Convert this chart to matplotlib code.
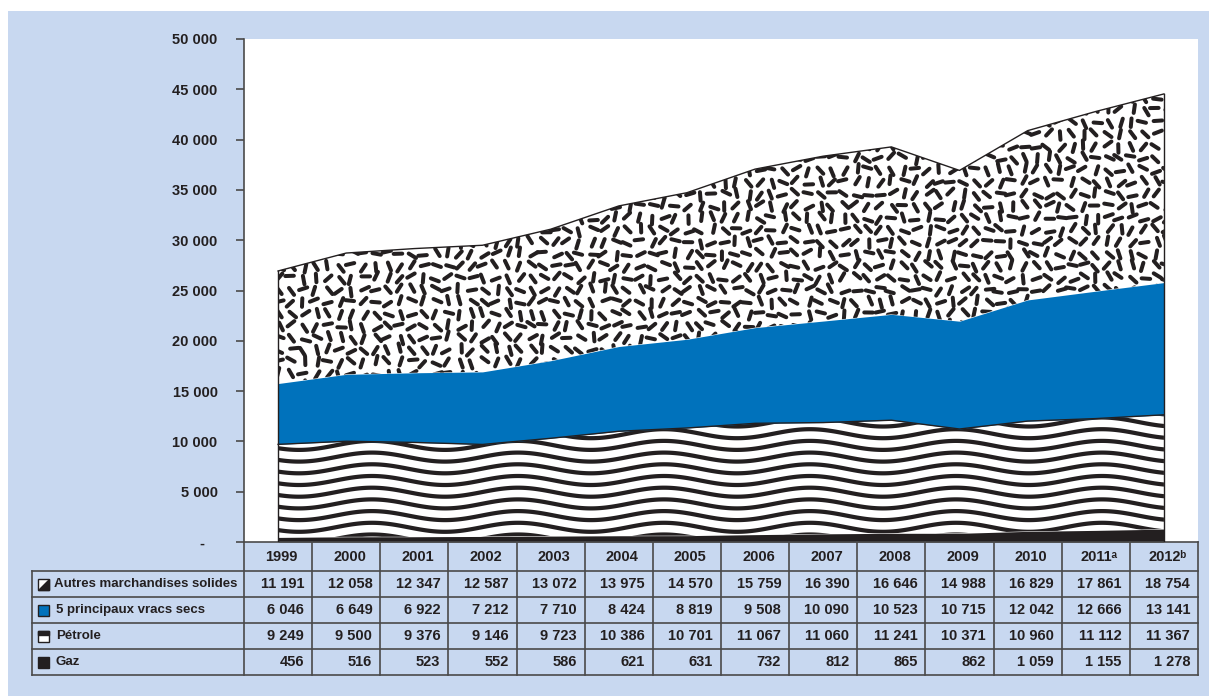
import numpy as np
import matplotlib.pyplot as plt
from matplotlib.collections import LineCollection
from matplotlib.lines import Line2D
from matplotlib.patches import Rectangle, Polygon
from matplotlib.ticker import FuncFormatter
from matplotlib.transforms import blended_transform_factory

plt.rcParams['font.family'] = ['Liberation Sans', 'DejaVu Sans']
plt.rcParams['font.weight'] = 'bold'
plt.rcParams['font.size'] = 10.5

W, H, DPI = 1209, 696, 100
BG = '#c8d8f0'
INK = '#231f20'
BLUE = '#0072bc'
RULE = '#4a4a4a'

# --- données (milliers de tonnes) ---
years = ['1999', '2000', '2001', '2002', '2003', '2004', '2005', '2006',
         '2007', '2008', '2009', '2010', '2011ᵃ', '2012ᵇ']
autres = [11191, 12058, 12347, 12587, 13072, 13975, 14570, 15759,
          16390, 16646, 14988, 16829, 17861, 18754]
vracs = [6046, 6649, 6922, 7212, 7710, 8424, 8819, 9508,
         10090, 10523, 10715, 12042, 12666, 13141]
petrole = [9249, 9500, 9376, 9146, 9723, 10386, 10701, 11067,
           11060, 11241, 10371, 10960, 11112, 11367]
gaz = [456, 516, 523, 552, 586, 621, 631, 732,
       812, 865, 862, 1059, 1155, 1278]
row_labels = ['Autres marchandises solides', '5 principaux vracs secs', 'Pétrole', 'Gaz']
y_ticks = [0, 5000, 10000, 15000, 20000, 25000, 30000, 35000, 40000, 45000, 50000]

x = np.arange(len(years))
gaz_top = np.array(gaz, dtype=float)
petrole_top = gaz_top + petrole
vracs_top = petrole_top + vracs
autres_top = vracs_top + autres


def fx(px):
    return px / W


def fy(py):
    return 1 - py / H


def fmt(v):
    return f'{int(v):,}'.replace(',', ' ')


fig = plt.figure(figsize=(W / DPI, H / DPI), dpi=DPI, facecolor='white')
fig.patches.append(Rectangle((fx(8), 0), 1, fy(11), transform=fig.transFigure,
                             facecolor=BG, edgecolor='none', zorder=-10))

ax = fig.add_axes([fx(244), fy(542), fx(1198) - fx(244), fy(39) - fy(542)])
xmin, xmax = -0.5, len(years) - 0.5
ax.set_xlim(xmin, xmax)
ax.set_ylim(0, 50000)
ax.set_autoscale_on(False)

# taille d'un pixel en unités de données
ax_w = (fx(1198) - fx(244)) * W
ax_h = (fy(39) - fy(542)) * H
ux = (xmax - xmin) / ax_w
uy = 50000 / ax_h

# --- aires empilées ---
ax.fill_between(x, 0, gaz_top, color=INK, lw=0, zorder=2)
pet = ax.fill_between(x, gaz_top, petrole_top, color='white', lw=0, zorder=1)
ax.fill_between(x, petrole_top, vracs_top, color=BLUE, lw=0, zorder=2)
aut = ax.fill_between(x, vracs_top, autres_top, color='white', lw=0, zorder=1)

# pétrole : lignes ondulées
xs = np.linspace(xmin, xmax, 1200)
wave_len, wave_amp, wave_gap = 146, 4.5, 11.7
waves = []
for k in range(-1, int(petrole_top.max() / (wave_gap * uy)) + 3):
    ys = (k * wave_gap + 3) * uy + wave_amp * uy * np.sin(2 * np.pi * (xs + 1.3) / (wave_len * ux))
    waves.append(np.column_stack([xs, ys]))
wl = LineCollection(waves, colors=INK, linewidths=4.2 * 72 / DPI, capstyle='butt', zorder=1.5)
wl.set_clip_path(pet.get_paths()[0], ax.transData)
ax.add_collection(wl)

# autres marchandises : petits traits orientés
rng = np.random.default_rng(11)
step = 12
gx, gy = np.meshgrid(np.arange(0, ax_w, step), np.arange(0, ax_h, step))
cx = gx + rng.uniform(-2.5, 2.5, gx.shape)
cy = gy + rng.uniform(-2.5, 2.5, gy.shape)
ang = rng.uniform(0, np.pi, gx.shape)
half = 4.3
dx, dy = half * np.cos(ang), half * np.sin(ang)
segs = np.stack([
    np.stack([xmin + (cx - dx) * ux, (cy - dy) * uy], axis=-1),
    np.stack([xmin + (cx + dx) * ux, (cy + dy) * uy], axis=-1),
], axis=-2).reshape(-1, 2, 2)
dl = LineCollection(segs, colors=INK, linewidths=4.0 * 72 / DPI, capstyle='round', zorder=1.5)
dl.set_clip_path(aut.get_paths()[0], ax.transData)
ax.add_collection(dl)

# contours
ax.plot(x, autres_top, color=INK, lw=1, zorder=3)
ax.plot(x, petrole_top, color=INK, lw=1, zorder=3)
ax.plot([x[0], x[0]], [0, autres_top[0]], color=INK, lw=1, zorder=3)
ax.plot([x[-1], x[-1]], [0, autres_top[-1]], color=INK, lw=1, zorder=3)

# --- axes ---
for side in ['top', 'right']:
    ax.spines[side].set_visible(False)
ax.spines['left'].set_color(RULE)
ax.spines['bottom'].set_color(RULE)
ax.spines['left'].set_linewidth(1.2)
ax.spines['bottom'].set_linewidth(1.2)
ax.set_xticks([])
ax.set_yticks(y_ticks)
ax.yaxis.set_major_formatter(FuncFormatter(lambda v, p: '-   ' if v == 0 else fmt(v)))
ax.tick_params(axis='y', length=6, width=1.2, color=RULE, pad=13, labelcolor=INK, labelsize=10.5)

# --- tableau de données ---
trans = blended_transform_factory(ax.transData, fig.transFigure)
rows_y = [571, 597, 623, 649, 675]
line_kw = dict(color=RULE, lw=1.2)

for py in rows_y:
    fig.add_artist(Line2D([fx(32), fx(1198)], [fy(py), fy(py)], transform=fig.transFigure, **line_kw))
fig.add_artist(Line2D([fx(32), fx(32)], [fy(571), fy(675)], transform=fig.transFigure, **line_kw))
for i in range(len(years) + 1):
    fig.add_artist(Line2D([i - 0.5, i - 0.5], [fy(542), fy(675)], transform=trans, **line_kw))

for i, yr in enumerate(years):
    ax.text(i + 0.05, fy(557), yr, transform=trans, ha='center', va='center', color=INK)

table_rows = [autres, vracs, petrole, gaz]
for r, (label, vals) in enumerate(zip(row_labels, table_rows)):
    yc = (rows_y[r] + rows_y[r + 1]) / 2
    fig.text(fx(54 if r == 0 else 56), fy(yc), label, ha='left', va='center', color=INK,
             fontsize=9.5)
    for i, v in enumerate(vals):
        ax.text(i + 0.5 - 8 * ux, fy(yc), fmt(v), transform=trans,
                ha='right', va='center', color=INK)

# petits symboles de légende
s = 11
for r in range(4):
    yc = (rows_y[r] + rows_y[r + 1]) / 2
    x0, y0 = fx(38), fy(yc + s / 2)
    w, h = fx(s), s / H
    if r == 0:
        fig.patches.append(Rectangle((x0, y0), w, h, transform=fig.transFigure,
                                     facecolor='white', edgecolor=INK, lw=1))
        fig.patches.append(Polygon([(x0, y0), (x0 + w, y0), (x0 + w, y0 + h)], closed=True,
                                   transform=fig.transFigure, facecolor=INK, edgecolor=INK, lw=1))
    elif r == 1:
        fig.patches.append(Rectangle((x0, y0), w, h, transform=fig.transFigure,
                                     facecolor=BLUE, edgecolor=INK, lw=1))
    elif r == 2:
        fig.patches.append(Rectangle((x0, y0), w, h, transform=fig.transFigure,
                                     facecolor='white', edgecolor=INK, lw=1))
        fig.patches.append(Rectangle((x0, y0 + h * 0.62), w, h * 0.38, transform=fig.transFigure,
                                     facecolor=INK, edgecolor=INK, lw=1))
    else:
        fig.patches.append(Rectangle((x0, y0), w, h, transform=fig.transFigure,
                                     facecolor=INK, edgecolor=INK, lw=1))

fig.savefig('out.png', dpi=DPI, facecolor=fig.get_facecolor())
